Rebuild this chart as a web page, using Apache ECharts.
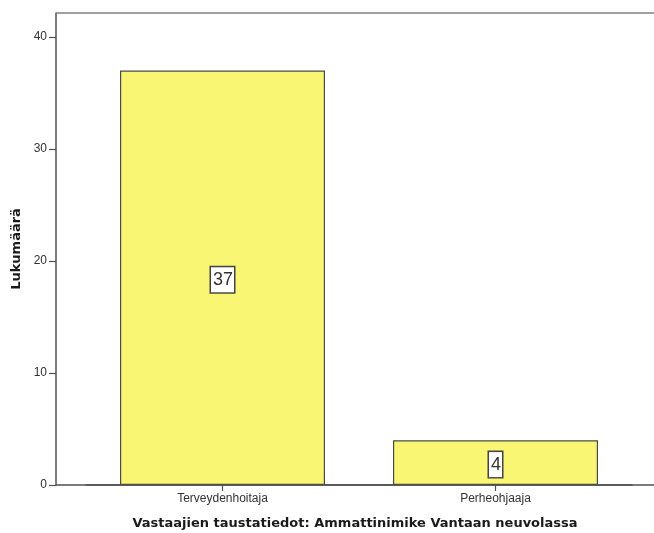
<!DOCTYPE html>
<html>
<head>
<meta charset="utf-8">
<style>
  html, body { margin: 0; padding: 0; background: #ffffff; }
  #chart { width: 654px; height: 533px; }
</style>
<script src="https://cdn.jsdelivr.net/npm/echarts@6/dist/echarts.min.js"></script>
</head>
<body>
<div id="chart"></div>
<script>
// Ammattinimike-jakauma
const categories = ['Terveydenhoitaja', 'Perheohjaaja'];
const counts = [37, 4];
const yTicks = [0, 10, 20, 30, 40];

const chart = echarts.init(document.getElementById('chart'), null, { renderer: 'canvas' });

const frameColor = '#505050';

chart.setOption({
  animation: false,
  backgroundColor: '#ffffff',
  grid: { left: 86, right: 22, top: 13, bottom: 48, containLabel: false, outerBoundsMode: 'none' },
  xAxis: {
    type: 'category',
    data: categories,
    boundaryGap: true,
    axisLine: { show: true, lineStyle: { color: frameColor, width: 1.5 } },
    axisTick: { show: true, alignWithLabel: true, length: 6, lineStyle: { color: frameColor, width: 1.2 } },
    axisLabel: { color: '#333333', fontSize: 12, fontFamily: 'Liberation Sans, Arial, sans-serif', margin: 8 },
    name: 'Vastaajien taustatiedot: Ammattinimike Vantaan neuvolassa',
    nameLocation: 'middle',
    nameGap: 32,
    nameTextStyle: { color: '#1a1a1a', fontSize: 13, fontWeight: 'bold', fontFamily: 'DejaVu Sans, sans-serif', padding: [0, 8, 0, 0] }
  },
  yAxis: {
    type: 'value',
    min: 0,
    max: 42.14,
    interval: 10,
    offset: 30,
    axisLine: { show: true, lineStyle: { color: frameColor, width: 1.5 } },
    axisTick: { show: true, length: 7, lineStyle: { color: frameColor, width: 1.2 } },
    axisLabel: {
      color: '#333333', fontSize: 12, fontFamily: 'Liberation Sans, Arial, sans-serif', margin: 9,
      showMaxLabel: false,
      formatter: v => (yTicks.includes(v) ? String(v) : '')
    },
    splitLine: { show: false },
    name: 'Lukumäärä',
    nameLocation: 'middle',
    nameGap: 32,
    nameRotate: 90,
    nameTextStyle: { color: '#1a1a1a', fontSize: 13, fontWeight: 'bold', fontFamily: 'DejaVu Sans, sans-serif' }
  },
  series: [{
    type: 'bar',
    data: counts,
    barWidth: 205,
    itemStyle: { color: '#f8f672', borderColor: '#4a4a4a', borderWidth: 1.2 },
    label: {
      show: true,
      position: 'inside',
      offset: [0, 2],
      color: '#333333',
      fontSize: 18,
      fontFamily: 'Liberation Sans, Arial, sans-serif',
      backgroundColor: '#ffffff',
      borderColor: '#444444',
      borderWidth: 1.5,
      padding: [4, 1, 3, 2]
    }
  }],
  graphic: [
    // top edge of the plot frame
    { type: 'line', z: 10, shape: { x1: 56, y1: 13, x2: 654, y2: 13 }, style: { stroke: '#808080', lineWidth: 1.5 } },
    // bottom edge extending past the category band
    { type: 'line', z: 10, shape: { x1: 56, y1: 485, x2: 654, y2: 485 }, style: { stroke: frameColor, lineWidth: 1.5 } }
  ]
});
</script>
</body>
</html>
